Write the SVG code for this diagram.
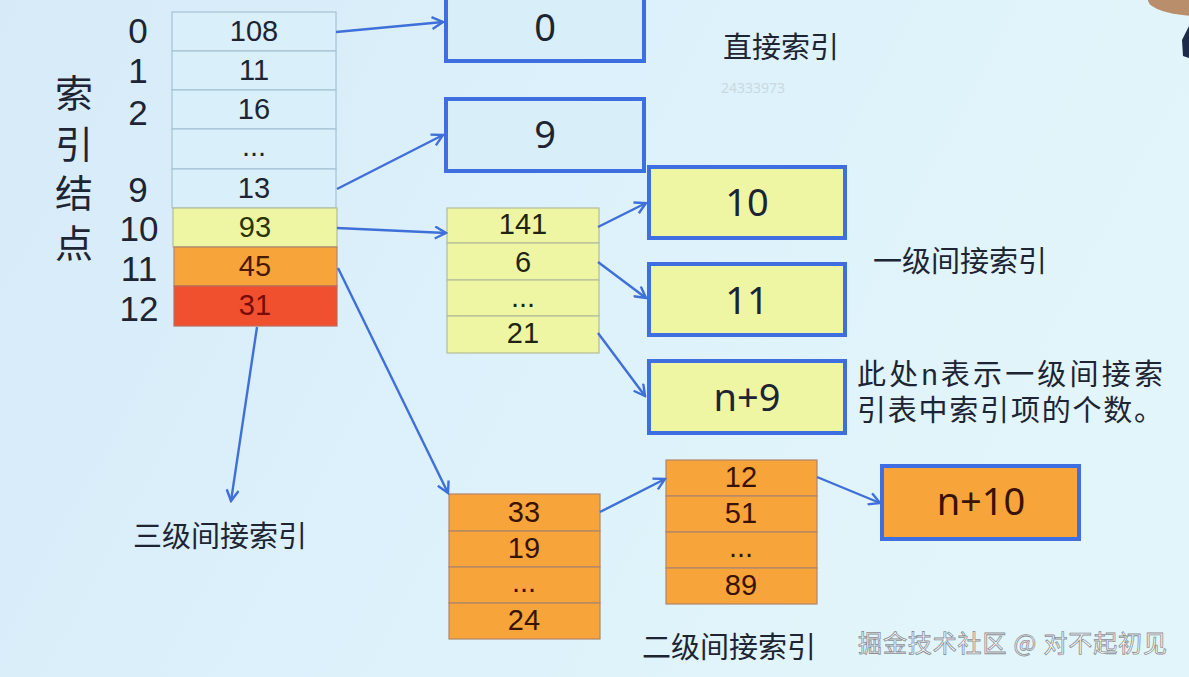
<svg xmlns="http://www.w3.org/2000/svg" width="1189" height="677" viewBox="0 0 1189 677">
<defs>
<linearGradient id="bg" x1="0" y1="0" x2="1" y2="0.3">
<stop offset="0" stop-color="#d6eaf8"/>
<stop offset="0.5" stop-color="#dcf1fb"/>
<stop offset="1" stop-color="#e2f5fa"/>
</linearGradient>
<marker id="arr" viewBox="0 0 14 14" refX="12" refY="7" markerWidth="14" markerHeight="14" orient="auto" markerUnits="userSpaceOnUse">
<path d="M1,1 L12,7 L1,13" fill="none" stroke="#3f6fd9" stroke-width="2.4"/>
</marker>
<style>
.cell-b{fill:#d9eff9;stroke:#a5c2d4;stroke-width:1.2}
.cell-y{fill:#eef6a4;stroke:#b5bc98;stroke-width:1.2}
.cell-o{fill:#f7a43a;stroke:#b0866a;stroke-width:1.2}
.cell-r{fill:#f1502f;stroke:#c06a5a;stroke-width:1.2}
.box{stroke:#3e6ee0;stroke-width:4}
.t{font-family:"Noto Sans","Noto Sans CJK SC",sans-serif;text-anchor:middle;dominant-baseline:central}
.cell{font-family:"Liberation Sans",sans-serif;font-size:29px;fill:#1d2433}
.big{font-size:38px;fill:#1d2433}
.idx{font-family:"Liberation Sans",sans-serif;font-size:35px;fill:#1d2433;text-anchor:middle;dominant-baseline:central}
.cn{font-family:"Noto Sans CJK SC","Noto Sans",sans-serif;font-size:29px;fill:#1d2433}
.note{font-family:"Liberation Sans","Noto Sans CJK SC",sans-serif;font-size:29px;fill:#1d2433}
.conn{stroke:#3f6fd9;stroke-width:2.4;fill:none;marker-end:url(#arr)}
</style>
</defs>
<rect x="0" y="0" width="1189" height="677" fill="url(#bg)"/>
<ellipse cx="1200" cy="0" rx="52" ry="16" fill="#b98e6a"/>
<path d="M1189,26 L1182,40 L1183,56 L1189,58 Z" fill="#1e2a4a"/>

<g id="inode-label">
<text class="t big" x="74" y="92">索</text>
<text class="t big" x="74" y="143">引</text>
<text class="t big" x="74" y="192">结</text>
<text class="t big" x="74" y="242">点</text>
</g>
<g id="inode-indices">
<text class="idx" x="138" y="30">0</text>
<text class="idx" x="138" y="70">1</text>
<text class="idx" x="138" y="112">2</text>
<text class="idx" x="138" y="189">9</text>
<text class="idx" x="139" y="228">10</text>
<text class="idx" x="139" y="268">11</text>
<text class="idx" x="139" y="308">12</text>
</g>
<g id="inode">
<rect class="cell-b" x="172" y="12" width="164" height="39"/>
<rect class="cell-b" x="172" y="51" width="164" height="39"/>
<rect class="cell-b" x="172" y="90" width="164" height="39"/>
<rect class="cell-b" x="172" y="129" width="164" height="40"/>
<rect class="cell-b" x="172" y="169" width="164" height="39"/>
<rect class="cell-y" x="173" y="208" width="164" height="39"/>
<rect class="cell-o" x="174" y="247" width="163" height="39"/>
<rect class="cell-r" x="174" y="286" width="163" height="40"/>
<text class="t cell" x="254" y="31">108</text>
<text class="t cell" x="254" y="70">11</text>
<text class="t cell" x="254" y="109">16</text>
<text class="t cell" x="254" y="146">...</text>
<text class="t cell" x="254" y="188">13</text>
<text class="t cell" x="255" y="227" style="fill:#2b3300">93</text>
<text class="t cell" x="255" y="266" style="fill:#4a1800">45</text>
<text class="t cell" x="255" y="305" style="fill:#7a0c05">31</text>
</g>

<g id="block0">
<rect class="box" x="446" y="-6" width="198" height="67" fill="#d8eef9"/>
<text class="t big" x="545" y="26">0</text>
</g>
<g id="block9">
<rect class="box" x="446" y="99" width="198" height="72" fill="#d8eef9"/>
<text class="t big" x="545" y="133">9</text>
</g>
<g id="block10">
<rect class="box" x="649" y="167" width="196" height="71" fill="#eef6a4"/>
<text class="t big" x="747" y="201">10</text>
</g>
<g id="block11">
<rect class="box" x="649" y="264" width="196" height="71" fill="#eef6a4"/>
<text class="t big" x="747" y="299">11</text>
</g>
<g id="blockn9">
<rect class="box" x="649" y="361" width="196" height="72" fill="#eef6a4"/>
<text class="t big" x="747" y="396">n+9</text>
</g>
<g id="blockn10">
<rect class="box" x="882" y="466" width="197" height="73" fill="#f7a43a"/>
<text class="t big" x="981" y="500" style="fill:#3a1200">n+10</text>
</g>

<g id="table-l1">
<rect class="cell-y" x="447" y="208" width="152" height="35"/>
<rect class="cell-y" x="447" y="243" width="152" height="37"/>
<rect class="cell-y" x="447" y="280" width="152" height="36"/>
<rect class="cell-y" x="447" y="316" width="152" height="37"/>
<text class="t cell" x="523" y="224" style="fill:#1f2410">141</text>
<text class="t cell" x="523" y="262" style="fill:#1f2410">6</text>
<text class="t cell" x="523" y="297" style="fill:#1f2410">...</text>
<text class="t cell" x="523" y="333" style="fill:#1f2410">21</text>
</g>
<g id="table-l2a">
<rect class="cell-o" x="449" y="494" width="151" height="37"/>
<rect class="cell-o" x="449" y="531" width="151" height="36"/>
<rect class="cell-o" x="449" y="567" width="151" height="36"/>
<rect class="cell-o" x="449" y="603" width="151" height="36"/>
<text class="t cell" x="524" y="512" style="fill:#3a1200">33</text>
<text class="t cell" x="524" y="548" style="fill:#3a1200">19</text>
<text class="t cell" x="524" y="582" style="fill:#3a1200">...</text>
<text class="t cell" x="524" y="620" style="fill:#3a1200">24</text>
</g>
<g id="table-l2b">
<rect class="cell-o" x="666" y="460" width="151" height="36"/>
<rect class="cell-o" x="666" y="496" width="151" height="36"/>
<rect class="cell-o" x="666" y="532" width="151" height="36"/>
<rect class="cell-o" x="666" y="568" width="151" height="36"/>
<text class="t cell" x="741" y="477" style="fill:#3a1200">12</text>
<text class="t cell" x="741" y="513" style="fill:#3a1200">51</text>
<text class="t cell" x="741" y="547" style="fill:#3a1200">...</text>
<text class="t cell" x="741" y="585" style="fill:#3a1200">89</text>
</g>

<g id="connectors">
<line class="conn" x1="336" y1="32" x2="443" y2="22"/>
<line class="conn" x1="337" y1="189" x2="443" y2="135"/>
<line class="conn" x1="337" y1="228" x2="446" y2="233"/>
<line class="conn" x1="338" y1="268" x2="448" y2="493"/>
<line class="conn" x1="257" y1="327" x2="231" y2="501"/>
<line class="conn" x1="598" y1="227" x2="646" y2="203"/>
<line class="conn" x1="598" y1="262" x2="646" y2="298"/>
<line class="conn" x1="598" y1="333" x2="645" y2="396"/>
<line class="conn" x1="600" y1="512" x2="665" y2="479"/>
<line class="conn" x1="817" y1="477" x2="880" y2="503"/>
</g>

<g id="labels">
<text class="cn" x="723" y="58">直接索引</text>
<text x="721" y="93" font-family="Noto Sans, sans-serif" font-size="14" fill="#c9d9e2">24333973</text>
<text class="cn" x="873" y="272">一级间接索引</text>
<text class="note" x="857" y="385" textLength="306" lengthAdjust="spacing">此处n表示一级间接索</text>
<text class="note" x="857" y="421" textLength="306" lengthAdjust="spacing">引表中索引项的个数。</text>
<text class="cn" x="642" y="658">二级间接索引</text>
<text class="cn" x="133" y="547">三级间接索引</text>
<text x="858" y="652" font-family="Noto Sans CJK SC, sans-serif" font-size="24" fill="#ffffff" stroke="#8a8f96" stroke-width="0.8" textLength="309" lengthAdjust="spacing">掘金技术社区 @ 对不起初见</text>
</g>
</svg>
